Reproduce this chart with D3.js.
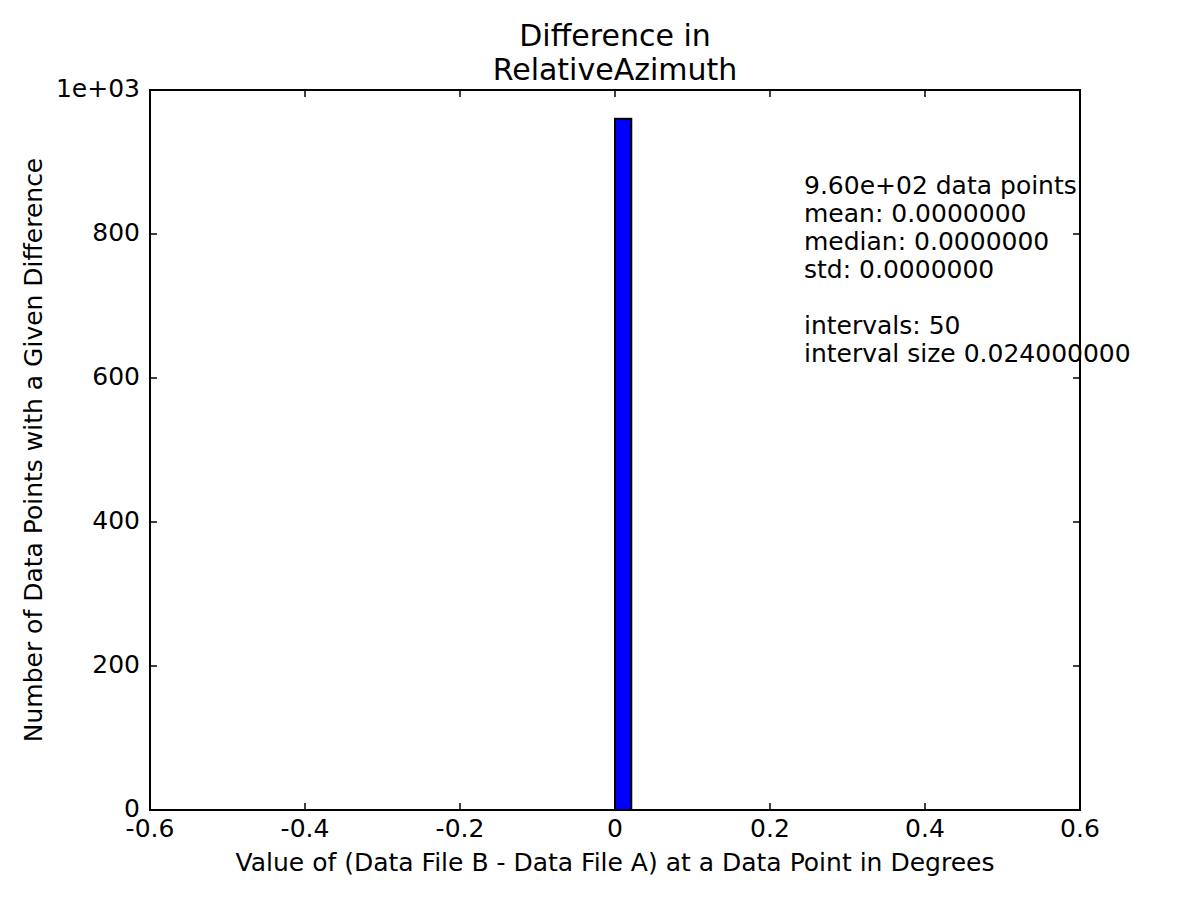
<!DOCTYPE html>
<html>
<head>
<meta charset="utf-8">
<title>Difference in RelativeAzimuth</title>
<script src="https://d3js.org/d3.v7.min.js"></script>
<style>
  body { margin: 0; background: #fff; }
  svg text { font-family: 'DejaVu Sans', sans-serif; fill: #000; }
</style>
</head>
<body>
<script>
// histogram data
var binStart = [0.0];
var binEnd = [0.021];
var counts = [960];

var xTicks = [-0.6, -0.4, -0.2, 0, 0.2, 0.4, 0.6];
var xTickLabels = ["-0.6", "-0.4", "-0.2", "0", "0.2", "0.4", "0.6"];
var yTicks = [0, 200, 400, 600, 800, 1000];
var yTickLabels = ["0", "200", "400", "600", "800", "1e+03"];

var titleLines = ["Difference in", "RelativeAzimuth"];
var statsLines = ["9.60e+02 data points", "mean: 0.0000000", "median: 0.0000000", "std: 0.0000000", "", "intervals: 50", "interval size 0.024000000"];

var W = 1200, H = 900;
var pLeft = 150, pRight = 1080, pTop = 90, pBottom = 810;
var tickLen = 7;

var svg = d3.select("body").append("svg").attr("width", W).attr("height", H);

var x = d3.scaleLinear().domain([-0.6, 0.6]).range([pLeft, pRight]);
var y = d3.scaleLinear().domain([0, 1000]).range([pBottom, pTop]);

// bars
svg.selectAll("rect.bar").data(counts).enter().append("rect")
  .attr("class", "bar")
  .attr("x", function(d, i) { return x(binStart[i]); })
  .attr("width", function(d, i) { return x(binEnd[i]) - x(binStart[i]); })
  .attr("y", function(d) { return y(d); })
  .attr("height", function(d) { return y(0) - y(d); })
  .attr("fill", "#0000ff")
  .attr("stroke", "#000")
  .attr("stroke-width", 2);

// ticks, inside on all four sides
var tk = svg.append("g").attr("stroke", "#000").attr("stroke-width", 1.5);
xTicks.forEach(function(t) {
  tk.append("line").attr("x1", x(t)).attr("x2", x(t)).attr("y1", pBottom).attr("y2", pBottom - tickLen);
  tk.append("line").attr("x1", x(t)).attr("x2", x(t)).attr("y1", pTop).attr("y2", pTop + tickLen);
});
yTicks.forEach(function(t) {
  tk.append("line").attr("x1", pLeft).attr("x2", pLeft + tickLen).attr("y1", y(t)).attr("y2", y(t));
  tk.append("line").attr("x1", pRight).attr("x2", pRight - tickLen).attr("y1", y(t)).attr("y2", y(t));
});

// frame
svg.append("rect").attr("x", pLeft).attr("y", pTop).attr("width", pRight - pLeft).attr("height", pBottom - pTop)
  .attr("fill", "none").attr("stroke", "#000").attr("stroke-width", 2);

// tick labels
svg.selectAll("text.xt").data(xTicks).enter().append("text")
  .attr("class", "xt")
  .attr("x", function(d) { return x(d); })
  .attr("y", pBottom + 27)
  .attr("text-anchor", "middle")
  .style("font-size", "25px")
  .text(function(d, i) { return xTickLabels[i]; });

svg.selectAll("text.yt").data(yTicks).enter().append("text")
  .attr("class", "yt")
  .attr("x", pLeft - 10)
  .attr("y", function(d) { return y(d) + 7; })
  .attr("text-anchor", "end")
  .style("font-size", "25px")
  .text(function(d, i) { return yTickLabels[i]; });

// axis labels
svg.append("text").attr("x", (pLeft + pRight) / 2).attr("y", 871)
  .attr("text-anchor", "middle").style("font-size", "25px")
  .text("Value of (Data File B - Data File A) at a Data Point in Degrees");

svg.append("text").attr("transform", "translate(42," + (pTop + pBottom) / 2 + ") rotate(-90)")
  .attr("text-anchor", "middle").style("font-size", "25px")
  .text("Number of Data Points with a Given Difference");

// title
svg.selectAll("text.title").data(titleLines).enter().append("text")
  .attr("class", "title")
  .attr("x", (pLeft + pRight) / 2)
  .attr("y", function(d, i) { return 46 + i * 34; })
  .attr("text-anchor", "middle")
  .style("font-size", "30px")
  .text(function(d) { return d; });

// stats box text
svg.selectAll("text.stats").data(statsLines).enter().append("text")
  .attr("class", "stats")
  .attr("x", 804)
  .attr("y", function(d, i) { return 194 + i * 28; })
  .style("font-size", "25px")
  .text(function(d) { return d; });
</script>
</body>
</html>
